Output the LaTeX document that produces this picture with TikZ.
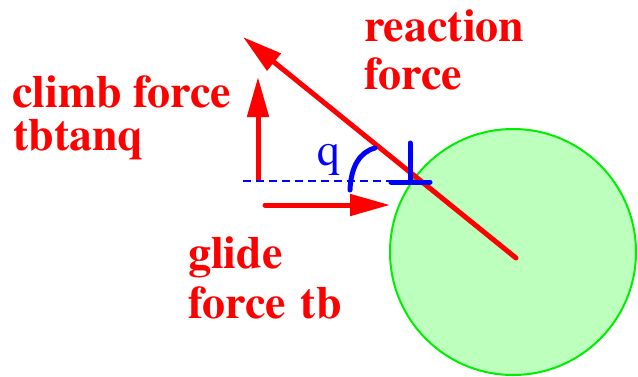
\documentclass[tikz,border=0pt]{standalone}
\usepackage[T1]{fontenc}
\usepackage{mathptmx}
\usetikzlibrary{arrows.meta}
\definecolor{redf}{HTML}{FF0000}
\definecolor{bluef}{HTML}{0000FF}
\definecolor{greenr}{HTML}{00EE00}
\definecolor{greenbg}{HTML}{BDFFBD}
\tikzset{
  ar/.style={-{Triangle[length=40pt,width=21pt]},line width=5pt,redf},
  lbl/.style={font=\rmfamily\bfseries\fontsize{46}{50}\selectfont,redf,inner sep=0pt,anchor=base west},
  bl/.style={bluef,line width=5pt,line cap=round}
}
\begin{document}
\begin{tikzpicture}[x=1pt,y=-1pt]
\useasboundingbox (0,0) rectangle (638,376);
% particle
\draw[greenr,line width=2pt,fill=greenbg] (513,252) circle[radius=123];
\coordinate (hub) at (516,258);
\coordinate (rtip) at (243,37);
\coordinate (cbase) at (258,182); \coordinate (ctip) at (258,77);
\coordinate (gbase) at (265,205); \coordinate (gtip) at (390,205);
\coordinate (dl) at (243,181); \coordinate (dr) at (400,181);
% forces
\draw[ar,line cap=round] (hub) -- (rtip);
\draw[ar] (cbase) -- (ctip);
\draw[ar,line cap=round] (gbase) -- (gtip);
\draw[bluef,line width=1.4pt,dash pattern=on 8pt off 5pt] (dl) -- (dr);
% dislocation and angle
\draw[bl] (391,182) -- (430,182) (410,143) -- (410,182);
\draw[bl] (350,190) .. controls (351,166) and (360,152) .. (375,148);
\node[lbl] (climb) at (12,107) {climb force};
\node[lbl] (climbv) at (13,150) {tbtanq};
\node[lbl] (react) at (364,41) {reaction};
\node[lbl] (reactb) at (364,89) {force};
\node[lbl] (glide) at (188,268) {glide};
\node[lbl] (glideb) at (188,318) {force\hspace{15pt}tb};
\node[font=\rmfamily\fontsize{46}{50}\selectfont,bluef,inner sep=0pt,anchor=base west] (ang) at (317,165) {q};
\end{tikzpicture}
\end{document}
